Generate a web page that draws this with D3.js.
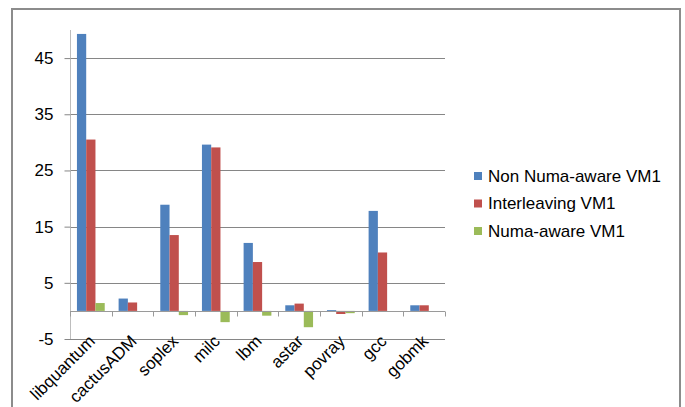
<!DOCTYPE html>
<html>
<head>
<meta charset="utf-8">
<script src="https://cdn.jsdelivr.net/npm/d3@7/dist/d3.min.js"></script>
<style>
  html, body { margin: 0; padding: 0; background: #fff; }
  svg { display: block; font-family: "Liberation Sans", Arial, sans-serif; }
</style>
</head>
<body>
<svg id="chart" width="685" height="407"></svg>
<script>
const categories = ["libquantum", "cactusADM", "soplex", "milc", "lbm", "astar", "povray", "gcc", "gobmk"];
const seriesNames = ["Non Numa-aware VM1", "Interleaving VM1", "Numa-aware VM1"];
const nonNumaAware = [49.3, 2.2, 18.9, 29.6, 12.1, 1.0, 0.15, 17.8, 1.0];
const interleaving = [30.5, 1.5, 13.5, 29.1, 8.7, 1.3, -0.55, 10.4, 1.0];
const numaAware = [1.4, 0, -0.75, -2.0, -0.85, -2.9, -0.4, 0, 0];
const yTicks = [-5, 5, 15, 25, 35, 45];
const colors = ["#4F81BD", "#C0504D", "#9BBB59"];

const series = [nonNumaAware, interleaving, numaAware];

const svg = d3.select("#chart");

// outer chart frame
svg.append("rect")
  .attr("x", 12).attr("y", 9).attr("width", 668).attr("height", 410)
  .attr("fill", "none").attr("stroke", "#8c8c8c").attr("stroke-width", 2);

const plot = { left: 70, right: 445, top: 30, bottom: 339 };

const x = d3.scaleBand().domain(categories).range([plot.left, plot.right]).paddingInner(0).paddingOuter(0);
const xSub = d3.scaleBand().domain(d3.range(3)).range([0, x.bandwidth()]).paddingInner(0).paddingOuter(0.75);
const y = d3.scaleLinear().domain([-5, 50]).range([plot.bottom, plot.top]);

// gridlines
svg.append("g")
  .selectAll("line").data(yTicks).join("line")
  .attr("x1", plot.left).attr("x2", plot.right)
  .attr("y1", d => Math.round(y(d)) + 0.5).attr("y2", d => Math.round(y(d)) + 0.5)
  .attr("stroke", "#868686").attr("stroke-width", 1);

// y axis
const yAxis = svg.append("g")
  .attr("transform", `translate(${plot.left + 0.5},0)`)
  .call(d3.axisLeft(y).tickValues(yTicks).tickSize(6).tickPadding(11).tickFormat(d => String(d)));
yAxis.select(".domain").attr("stroke", "#bdbdbd").attr("d", `M-0,${plot.top}V${plot.bottom}`);
yAxis.selectAll(".tick line").attr("stroke", "#868686");
yAxis.selectAll(".tick text").attr("font-size", 17).attr("fill", "#000");

// bars
const groups = svg.append("g").selectAll("g").data(categories).join("g")
  .attr("transform", d => `translate(${x(d)},0)`);
groups.selectAll("rect")
  .data((c, i) => series.map((s, k) => ({ k, v: s[i] })))
  .join("rect")
  .attr("x", d => xSub(d.k))
  .attr("width", xSub.bandwidth())
  .attr("y", d => y(Math.max(0, d.v)))
  .attr("height", d => Math.abs(y(d.v) - y(0)))
  .attr("fill", d => colors[d.k]);

// x axis at zero
const zeroY = Math.round(y(0)) + 0.5;
svg.append("line")
  .attr("x1", plot.left).attr("x2", plot.right)
  .attr("y1", zeroY).attr("y2", zeroY)
  .attr("stroke", "#9a9a9a").attr("stroke-width", 1.2);
svg.append("g").selectAll("line").data(d3.range(categories.length + 1)).join("line")
  .attr("x1", i => Math.round(plot.left + i * x.bandwidth()) + 0.5)
  .attr("x2", i => Math.round(plot.left + i * x.bandwidth()) + 0.5)
  .attr("y1", zeroY).attr("y2", zeroY + 5)
  .attr("stroke", "#9a9a9a");

// x labels rotated
svg.append("g").selectAll("text").data(categories).join("text")
  .attr("transform", d => `translate(${x(d) + x.bandwidth() / 2 + 1},${338}) rotate(-45)`)
  .attr("text-anchor", "end")
  .attr("dy", "0.35em")
  .attr("font-size", 17)
  .attr("fill", "#000")
  .text(d => d);

// legend
const legend = svg.append("g").selectAll("g").data(seriesNames).join("g")
  .attr("transform", (d, i) => `translate(474,${176 + i * 27.5})`);
legend.append("rect")
  .attr("x", 0).attr("y", -4).attr("width", 8).attr("height", 8)
  .attr("fill", (d, i) => colors[i]);
legend.append("text")
  .attr("x", 14).attr("y", 0).attr("dy", "0.35em")
  .attr("font-size", 17).attr("fill", "#000")
  .text(d => d);
</script>
</body>
</html>
